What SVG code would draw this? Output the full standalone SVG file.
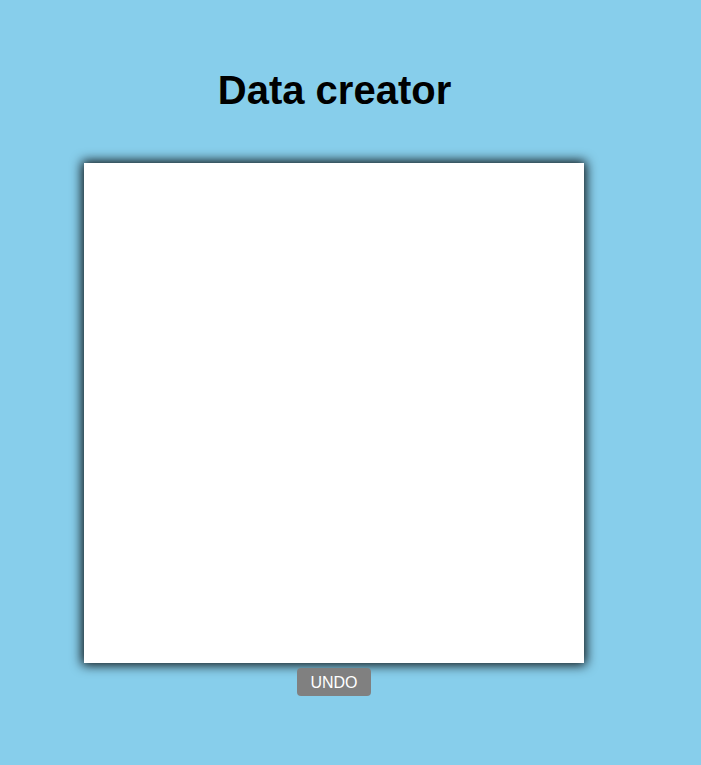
<svg xmlns="http://www.w3.org/2000/svg" width="701" height="765" viewBox="0 0 701 765">
<defs>
<style>
.title{font-family:"Liberation Sans",Arial,sans-serif;font-weight:bold;font-size:40px;fill:#000}
.btntext{font-family:"Liberation Sans",Arial,sans-serif;font-size:16px;fill:#fff}
</style>
<filter id="shadow" x="-15%" y="-15%" width="130%" height="130%">
<feMorphology in="SourceAlpha" operator="dilate" radius="2" result="d"/>
<feGaussianBlur in="d" stdDeviation="6" result="b"/>
<feFlood flood-color="#000" flood-opacity="0.95"/>
<feComposite in2="b" operator="in" result="s"/>
<feMerge><feMergeNode in="s"/><feMergeNode in="SourceGraphic"/></feMerge>
</filter>
</defs>
<rect x="0" y="0" width="701" height="765" fill="#87CEEB"/>
<g id="title"><text class="title" x="334.5" y="104" text-anchor="middle">Data creator</text></g>
<g id="canvas"><rect x="84" y="163" width="500" height="500" fill="#fff" filter="url(#shadow)"/></g>
<g id="undo">
<rect x="297" y="668" width="74" height="28" rx="4" ry="4" fill="#808080"/>
<text class="btntext" x="334" y="687.5" text-anchor="middle">UNDO</text>
</g>
<g id="connectors"/>
</svg>
